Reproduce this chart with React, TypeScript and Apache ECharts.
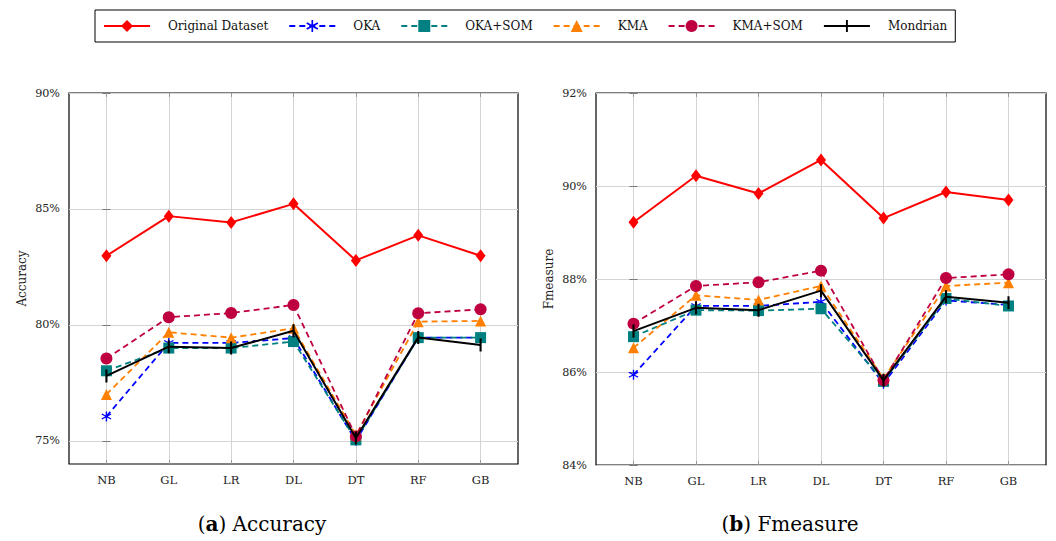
import React, { useEffect, useRef } from "react";
import * as echarts from "echarts";

const categories = ["NB", "GL", "LR", "DL", "DT", "RF", "GB"];
const seriesNames = ["Original Dataset", "OKA", "OKA+SOM", "KMA", "KMA+SOM", "Mondrian"];

const accOriginal = [82.98, 84.69, 84.42, 85.22, 82.78, 83.86, 82.98];
const accOKA = [76.05, 79.22, 79.22, 79.43, 75.0, 79.45, 79.45];
const accOKASOM = [78.02, 79.0, 79.0, 79.28, 75.04, 79.45, 79.45];
const accKMA = [77.0, 79.68, 79.45, 79.85, 75.25, 80.14, 80.17];
const accKMASOM = [78.55, 80.33, 80.51, 80.86, 75.19, 80.5, 80.67];
const accMondrian = [77.8, 79.06, 79.0, 79.75, 75.12, 79.46, 79.13];

const fmOriginal = [89.22, 90.22, 89.84, 90.56, 89.31, 89.87, 89.7];
const fmOKA = [85.94, 87.42, 87.42, 87.51, 85.75, 87.54, 87.44];
const fmOKASOM = [86.76, 87.33, 87.32, 87.36, 85.8, 87.58, 87.42];
const fmKMA = [86.52, 87.65, 87.55, 87.85, 85.86, 87.85, 87.92];
const fmKMASOM = [87.04, 87.85, 87.93, 88.18, 85.82, 88.02, 88.1];
const fmMondrian = [86.88, 87.38, 87.33, 87.75, 85.82, 87.62, 87.49];

const accTicks = [75, 80, 85, 90];
const fmTicks = [84, 86, 88, 90, 92];
const catTicks = categories.map((_, i) => i);

const accData = [accOriginal, accOKA, accOKASOM, accKMA, accKMASOM, accMondrian];
const fmData = [fmOriginal, fmOKA, fmOKASOM, fmKMA, fmKMASOM, fmMondrian];

const FONT = "DejaVu Serif";

const STAR =
  "path://M8.7 0L11.3 0L11.3 20L8.7 20ZM0.69 6.13L1.99 3.87L19.31 13.87L18.01 16.13ZM18.01 3.87L19.31 6.13L1.99 16.13L0.69 13.87Z";
const BAR = "path://M0 10L20 10ZM8.4 0L11.6 0L11.6 20L8.4 20Z";

const styles: any[] = [
  { color: "#ff0000", type: "solid", symbol: "diamond", size: [10, 13], width: 2 },
  { color: "#0000ff", type: [6, 4], symbol: STAR, size: 10, width: 1.8 },
  { color: "#008080", type: [6, 4], symbol: "rect", size: 11, width: 1.8 },
  { color: "#ff8000", type: [6, 4], symbol: "triangle", size: 11, width: 1.8 },
  { color: "#bf0040", type: [6, 4], symbol: "circle", size: 12, width: 1.8 },
  { color: "#000000", type: "solid", symbol: BAR, size: 13, width: 2 },
];

function makeSeries(data: number[][], g: number) {
  return data.map((vals, k) => {
    const s = styles[k];
    return {
      type: "line",
      name: seriesNames[k],
      xAxisIndex: 2 * g,
      yAxisIndex: 2 * g,
      data: vals.map((v, i) => [i, v]),
      symbol: s.symbol,
      symbolSize: s.size,
      lineStyle: { color: s.color, type: s.type, width: s.width },
      itemStyle: { color: s.color },
      z: 2 + k,
    };
  });
}

function xAxes(g: number) {
  const base = {
    type: "value",
    gridIndex: g,
    min: -0.6,
    max: 6.6,
    axisLine: { show: false },
  };
  return [
    {
      ...base,
      position: "bottom",
      axisLabel: {
        customValues: catTicks,
        formatter: (v: number) => categories[Math.round(v)] ?? "",
        fontFamily: FONT,
        fontSize: 11.5,
        color: "#222",
        margin: 10,
      },
      axisTick: { customValues: catTicks, inside: true, length: 4, lineStyle: { color: "#999" } },
      splitLine: { show: true, lineStyle: { color: "#d4d4d4", width: 1 } },
    },
    {
      ...base,
      position: "top",
      axisLabel: { show: false },
      axisTick: { customValues: catTicks, inside: true, length: 4, lineStyle: { color: "#999" } },
      splitLine: { show: false },
    },
  ];
}

function yAxes(g: number, min: number, max: number, ticks: number[], name: string) {
  const base = { type: "value", gridIndex: g, min, max, axisLine: { show: false } };
  return [
    {
      ...base,
      position: "left",
      name,
      nameLocation: "middle",
      nameRotate: 90,
      nameGap: 41,
      nameTextStyle: { fontFamily: FONT, fontSize: 12, color: "#222" },
      axisLabel: {
        customValues: ticks,
        formatter: (v: number) => `${v}%`,
        fontFamily: FONT,
        fontSize: 11.2,
        color: "#222",
        margin: 9,
      },
      axisTick: { customValues: ticks, inside: true, length: 4, lineStyle: { color: "#777" } },
      splitLine: { show: true, lineStyle: { color: "#d4d4d4", width: 1 } },
    },
    {
      ...base,
      position: "right",
      axisLabel: { show: false },
      axisTick: { customValues: ticks, inside: true, length: 4, lineStyle: { color: "#777" } },
      splitLine: { show: false },
    },
  ];
}

export default function App() {
  const ref = useRef<HTMLDivElement>(null);
  useEffect(() => {
    if (!ref.current) return;
    const chart = echarts.init(ref.current, null, { renderer: "svg" });
    const option: any = {
      animation: false,
      backgroundColor: "#ffffff",
      legend: {
        data: seriesNames,
        left: 95,
        top: 10,
        padding: [10, 8, 10, 8],
        itemGap: 20,
        itemWidth: 46,
        itemHeight: 15,
        borderColor: "#000",
        borderWidth: 1,
        textStyle: { fontFamily: FONT, fontSize: 12, color: "#111", padding: [0, 0, 0, 13] },
      },
      grid: [
        { left: 69, top: 93, width: 449, height: 371, show: true, borderColor: "#000", borderWidth: 1.2 },
        { left: 596, top: 93, width: 450, height: 372, show: true, borderColor: "#000", borderWidth: 1.2 },
      ],
      xAxis: [...xAxes(0), ...xAxes(1)],
      yAxis: [...yAxes(0, 74, 90, accTicks, "Accuracy"), ...yAxes(1, 84, 92, fmTicks, "Fmeasure")],
      series: [...makeSeries(accData, 0), ...makeSeries(fmData, 1)],
      graphic: [
        {
          type: "text",
          x: 262,
          y: 524,
          style: {
            text: "{n|(}{b|a}{n|) Accuracy}",
            align: "center",
            verticalAlign: "middle",
            fill: "#000",
            rich: {
              n: { fontFamily: FONT, fontSize: 20, fill: "#000" },
              b: { fontFamily: FONT, fontSize: 20, fontWeight: "bold", fill: "#000" },
            },
          },
        },
        {
          type: "text",
          x: 790,
          y: 524,
          style: {
            text: "{n|(}{b|b}{n|) Fmeasure}",
            align: "center",
            verticalAlign: "middle",
            fill: "#000",
            rich: {
              n: { fontFamily: FONT, fontSize: 20, fill: "#000" },
              b: { fontFamily: FONT, fontSize: 20, fontWeight: "bold", fill: "#000" },
            },
          },
        },
      ],
    };
    chart.setOption(option);
    return () => chart.dispose();
  }, []);
  return (
    <div
      ref={ref}
      style={{ position: "absolute", left: 0, top: 0, width: 1056, height: 541, background: "#fff" }}
    />
  );
}
